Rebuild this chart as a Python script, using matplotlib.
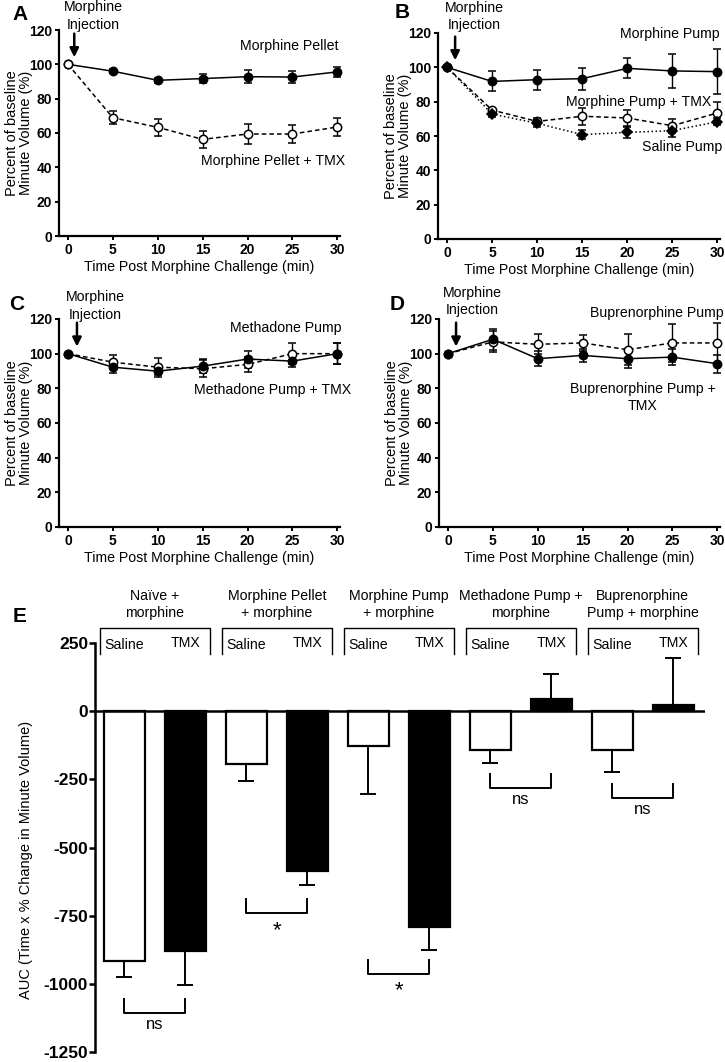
import numpy as np
import matplotlib
matplotlib.use('Agg')
import matplotlib.pyplot as plt

plt.rcParams['font.family'] = ['Liberation Sans', 'DejaVu Sans']
plt.rcParams['axes.unicode_minus'] = False

# ---- time course data (percent of baseline minute volume) ----
t = [0, 5, 10, 15, 20, 25, 30]

pellet = [100, 96.0, 90.7, 91.7, 92.8, 92.6, 95.6]
pellet_err = [0, 1.0, 1.5, 2.6, 3.9, 3.4, 3.1]
pellet_tmx = [100, 68.9, 63.3, 56.3, 59.4, 59.4, 63.5]
pellet_tmx_err = [0, 3.9, 5.1, 4.9, 5.8, 5.0, 5.1]

pump = [100, 91.8, 92.8, 93.4, 99.4, 97.9, 97.5]
pump_err = [0, 5.8, 5.8, 6.4, 5.8, 10.0, 13.0]
pump_tmx = [100, 75.1, 68.5, 71.5, 70.5, 66.0, 73.4]
pump_tmx_err = [0, 1.5, 2.0, 5.0, 4.8, 4.0, 6.5]
saline_pump = [100, 72.8, 67.4, 60.8, 62.1, 63.1, 68.3]
saline_pump_err = [0, 1.5, 2.0, 2.5, 3.0, 3.5, 2.0]

methadone = [100, 92.2, 89.9, 92.8, 96.9, 95.7, 100]
methadone_err = [0, 3.2, 2.0, 3.9, 4.9, 3.4, 6.0]
methadone_tmx = [100, 95.1, 92.2, 91.3, 93.8, 100, 100]
methadone_tmx_err = [0, 3.9, 5.5, 4.9, 4.4, 6.2, 6.0]

bup = [100, 106.8, 105.4, 106.2, 102.3, 106.2, 106.2]
bup_err = [0, 6.0, 5.8, 4.6, 9.0, 11.0, 11.3]
bup_tmx = [100, 108.3, 97.1, 99.0, 97.1, 98.0, 94.2]
bup_tmx_err = [0, 6.0, 4.4, 3.9, 5.3, 4.7, 5.3]

# ---- AUC data ----
groups = ['Naïve +\nmorphine', 'Morphine Pellet\n+ morphine', 'Morphine Pump\n+ morphine',
          'Methadone Pump +\nmorphine', 'Buprenorphine\nPump + morphine']
auc_saline = [-916, -193, -127, -142, -142]
auc_saline_err = [60, 62, 176, 49, 82]
auc_tmx = [-878, -586, -790, 44, 24]
auc_tmx_err = [128, 51, 86, 91, 172]
sig = ['ns', '*', '*', 'ns', 'ns']
sig_y = [-1055, -689, -911, -229, -266]

W, H = 725, 1062
fig = plt.figure(figsize=(W / 100, H / 100), dpi=100)
FS = 10.2


def px_axes(l, t_, r, b):
    return fig.add_axes([l / W, 1 - b / H, (r - l) / W, (b - t_) / H])


def style_line_axes(ax):
    ax.set_xlim(-1, 30.3)
    ax.set_ylim(0, 120)
    ax.set_xticks(range(0, 31, 5))
    ax.set_yticks(range(0, 121, 20))
    for s in ['top', 'right']:
        ax.spines[s].set_visible(False)
    for s in ['left', 'bottom']:
        ax.spines[s].set_linewidth(1.6)
    ax.tick_params(direction='out', length=3, width=1.4, labelsize=10, pad=2)
    for lab in ax.get_xticklabels() + ax.get_yticklabels():
        lab.set_fontweight('bold')
    ax.set_xlabel('Time Post Morphine Challenge (min)', fontsize=10.2, labelpad=2)
    ax.set_ylabel('Percent of baseline\nMinute Volume (%)', fontsize=10.5,
                  linespacing=1.05)
    ax.yaxis.set_label_coords(-0.092, 0.5)


def series(ax, y, err, filled=True, ls='-', marker='o', ms=6):
    ax.errorbar(t, y, yerr=err, color='k', ls=ls, lw=1.1, marker=marker, ms=ms,
                mfc='k' if filled else 'white', mec='k', mew=1.1,
                capsize=3, elinewidth=1.0, capthick=1.0, clip_on=False, zorder=3)


def injection(ax, xt, ya, xa):
    ax.text(xt, ya, 'Morphine\nInjection', ha='center', va='bottom', fontsize=FS,
            linespacing=1.3)
    ax.annotate('', xy=(xa, 102.5), xytext=(xa, 119.5),
                arrowprops=dict(arrowstyle='-|>', lw=1.8, color='k', mutation_scale=13))


# Panel A
axA = px_axes(59, 30, 340, 236)
series(axA, pellet, pellet_err, True, '-')
series(axA, pellet_tmx, pellet_tmx_err, False, (0, (3, 2)))
style_line_axes(axA)
injection(axA, 2.8, 119.0, 0.7)
axA.text(24.7, 110.5, 'Morphine Pellet', ha='center', va='center', fontsize=FS)
axA.text(22.8, 43.6, 'Morphine Pellet + TMX', ha='center', va='center', fontsize=FS)

# Panel B
axB = px_axes(438, 33, 720, 239)
series(axB, pump, pump_err, True, '-')
series(axB, pump_tmx, pump_tmx_err, False, (0, (3, 2)))
series(axB, saline_pump, saline_pump_err, True, ':', marker='D', ms=5)
style_line_axes(axB)
injection(axB, 3.0, 120.5, 0.9)
axB.text(24.7, 119.4, 'Morphine Pump', ha='center', va='center', fontsize=FS)
axB.text(21.3, 80, 'Morphine Pump + TMX', ha='center', va='center', fontsize=FS)
axB.text(26.1, 53.4, 'Saline Pump', ha='center', va='center', fontsize=FS)

# Panel C
axC = px_axes(59, 319, 340, 527)
series(axC, methadone_tmx, methadone_tmx_err, False, (0, (3, 2)))
series(axC, methadone, methadone_err, True, '-')
style_line_axes(axC)
injection(axC, 3.0, 118.5, 1.0)
axC.text(24.3, 114.6, 'Methadone Pump', ha='center', va='center', fontsize=FS)
axC.text(22.8, 79, 'Methadone Pump + TMX', ha='center', va='center', fontsize=FS)

# Panel D
axD = px_axes(439, 319, 720, 527)
series(axD, bup, bup_err, False, (0, (3, 2)))
series(axD, bup_tmx, bup_tmx_err, True, '-')
style_line_axes(axD)
injection(axD, 2.7, 121.0, 0.9)
axD.text(23.3, 123.3, 'Buprenorphine Pump', ha='center', va='center', fontsize=FS)
axD.text(21.7, 74.8, 'Buprenorphine Pump +\nTMX', ha='center', va='center', fontsize=FS,
         linespacing=1.3)

# Panel E
axE = px_axes(95, 643, 705, 1052)
pos_s = np.arange(len(groups)) * 2
pos_t = pos_s + 1
bw = 0.67
axE.bar(pos_s, auc_saline, width=bw, color='white', edgecolor='k', lw=1.6, zorder=2)
axE.bar(pos_t, auc_tmx, width=bw, color='k', edgecolor='k', lw=1.6, zorder=2)
for x, v, e in list(zip(pos_s, auc_saline, auc_saline_err)) + list(zip(pos_t, auc_tmx, auc_tmx_err)):
    d = np.sign(v)
    axE.errorbar([x], [v], yerr=[[e if d < 0 else 0], [e if d > 0 else 0]], fmt='none',
                 ecolor='k', elinewidth=1.4, capsize=6, capthick=1.4, zorder=1)
axE.axhline(0, color='k', lw=1.8, zorder=3)
axE.set_xlim(-0.48, 9.52)
axE.set_ylim(-1250, 250)
axE.set_yticks(range(-1250, 251, 250))
axE.set_xticks([])
for s in ['top', 'right', 'bottom']:
    axE.spines[s].set_visible(False)
axE.spines['left'].set_linewidth(1.8)
axE.tick_params(axis='y', direction='out', length=4, width=1.8, labelsize=12.5, pad=1)
for lab in axE.get_yticklabels():
    lab.set_fontweight('bold')
axE.set_ylabel('AUC (Time x % Change in Minute Volume)', fontsize=10.5)
axE.yaxis.set_label_coords(-0.102, 0.47)

for g, name in enumerate(groups):
    x0, x1 = 2 * g - 0.4, 2 * g + 1.4
    axE.plot([x0, x0, x1, x1], [208, 306, 306, 208], color='k', lw=1.0, clip_on=False)
    axE.text(2 * g, 242, 'Saline', ha='center', va='center', fontsize=FS)
    axE.text(2 * g + 1, 250, 'TMX', ha='center', va='center', fontsize=FS)
    axE.text(2 * g + 0.5, 335, name, ha='center', va='bottom', fontsize=FS,
             linespacing=1.3, clip_on=False)
    yb = sig_y[g]
    axE.plot([2 * g, 2 * g, 2 * g + 1, 2 * g + 1], [yb, yb - 52, yb - 52, yb],
             color='k', lw=1.4)
    if sig[g] == '*':
        axE.text(2 * g + 0.5, yb - 115, '*', ha='center', va='center', fontsize=16)
    else:
        axE.text(2 * g + 0.5, yb - 95, 'ns', ha='center', va='center', fontsize=12)

# panel letters
for letter, x, y in [('A', 20, 14), ('B', 402, 13), ('C', 17, 305), ('D', 397, 305), ('E', 20, 617)]:
    fig.text(x / W, 1 - y / H, letter, fontsize=15, fontweight='bold', ha='center', va='center')

fig.savefig('out.png', dpi=100)
